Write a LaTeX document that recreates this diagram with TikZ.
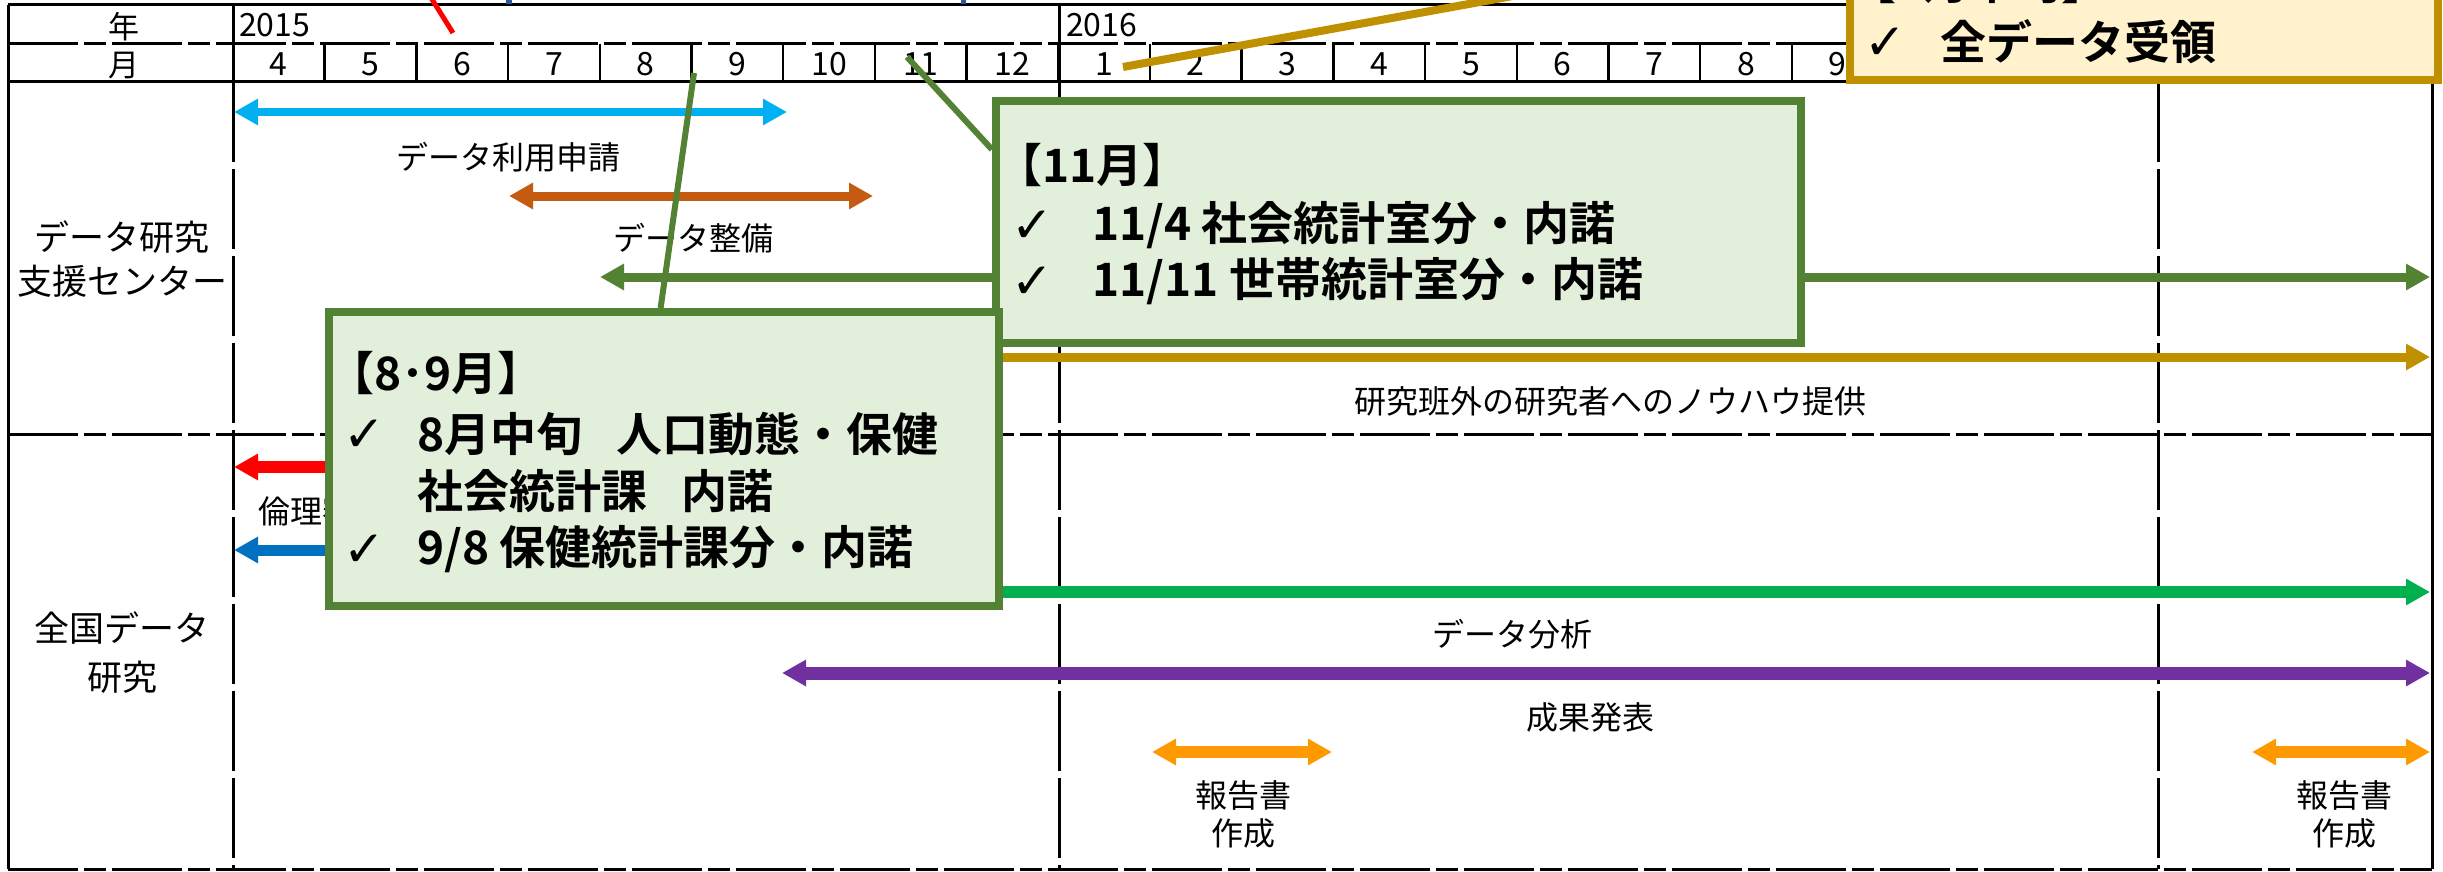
\documentclass[tikz,border=0pt]{standalone}
\usepackage{fontspec}
\usetikzlibrary{arrows.meta,calc}
\newfontfamily\jpfont{Noto Sans CJK JP}
\newfontfamily\jpbold{Noto Sans CJK JP Bold}
\newfontfamily\chkfont{DejaVu Sans}
\definecolor{cCyan}{HTML}{00B0F0}
\definecolor{cBrown}{HTML}{C55A11}
\definecolor{cDkGreen}{HTML}{548235}
\definecolor{cGold}{HTML}{BF9000}
\definecolor{cRed}{HTML}{FF0000}
\definecolor{cBlue}{HTML}{0070C0}
\definecolor{cGreen}{HTML}{00B050}
\definecolor{cPurple}{HTML}{7030A0}
\definecolor{cOrange}{HTML}{FF9900}
\definecolor{cBoxGreen}{HTML}{E2EFDA}
\definecolor{cBoxYellow}{HTML}{FFF2CC}
\definecolor{cNavy}{HTML}{2F5597}
\pgfdeclarelayer{bg}
\pgfdeclarelayer{conn}
\pgfsetlayers{bg,conn,main}
\begin{document}
\begin{tikzpicture}[x=1pt,y=-1pt,
  gridline/.style={line width=3pt,black},
  hdash/.style={dash pattern=on 70pt off 6pt on 22pt off 6pt},
  vdash/.style={dash pattern=on 80pt off 7pt},
  sepline/.style={line width=2.5pt,black},
  tbar/.style={line width=#1, line cap=butt},
  dbl/.style={{Triangle[length=24pt,width=25pt]}-{Triangle[length=24pt,width=25pt]}},
  rgt/.style={-{Triangle[length=24pt,width=25pt]}},
  lft/.style={{Triangle[length=24pt,width=25pt]}-},
  digit/.style={inner sep=0pt, font=\jpfont\fontsize{32}{38}\selectfont},
  hdr/.style={inner sep=0pt, font=\jpfont\fontsize{31}{37}\selectfont},
  side/.style={inner sep=0pt, font=\jpfont\fontsize{35}{42}\selectfont},
  lbl/.style={inner sep=0pt, font=\jpfont\fontsize{32}{38}\selectfont},
  note/.style={inner sep=0pt, anchor=west, font=\jpbold\fontsize{46}{55}\selectfont},
  chk/.style={inner sep=0pt, font=\chkfont\fontsize{50}{60}\selectfont},
  greenbox/.style={draw=cDkGreen, fill=cBoxGreen, line width=8pt, inner sep=0pt},
  yellowbox/.style={draw=cGold, fill=cBoxYellow, line width=8pt, inner sep=0pt},
  callG/.style={cDkGreen, line width=6pt},
]
\useasboundingbox (0,0) rectangle (2443,872);
\clip (0,0) rectangle (2443,872);

\begin{pgfonlayer}{bg}
\clip (0,0) rectangle (2443,872);
\fill[white] (0,0) rectangle (2443,872);
% grid
\draw[gridline] (8,5) -- (2432,5);
\draw[gridline] (8,5) -- (8,869);
\draw[gridline] (2432,5) -- (2432,869);
\draw[gridline,hdash] (8,869) -- (2432,869);
\draw[gridline,hdash] (8,44) -- (2432,44);
\draw[gridline] (8,82) -- (2432,82);
\draw[gridline,hdash] (8,434) -- (2432,434);
\draw[gridline] (233,5) -- (233,82);
\draw[gridline,vdash] (233,82) -- (233,869);
\draw[gridline] (1059,5) -- (1059,82);
\draw[gridline,vdash] (1059,82) -- (1059,869);
\draw[gridline,vdash] (2158,82) -- (2158,869);
\foreach \k in {1,...,23} \draw[sepline] ({233+\k*91.7},44) -- ({233+\k*91.7},82);
% header texts
\node[hdr] (nen) at (124,27) {年};
\node[hdr] (tsuki) at (124,66) {月};
\node[digit, anchor=west] (y2015) at (239,25) {2015};
\node[digit, anchor=west] (y2016) at (1066,25) {2016};
\foreach \m [count=\i from 0] in {4,5,6,7,8,9,10,11,12,1,2,3,4,5,6,7,8,9}
  \node[digit] (m\i) at ({233+(\i+0.5)*91.7},64) {\m};
% side labels
\node[side] (s1) at (122,237) {データ研究};
\node[side] (s2) at (122,281) {支援センター};
\node[side] (s3) at (122,628) {全国データ};
\node[side] (s4) at (122,677) {研究};
% bars
\draw[cCyan, tbar=8pt, dbl] (234,112) -- (787,112);
\draw[cBrown, tbar=9pt, dbl] (509,196) -- (873,196);
\draw[cDkGreen, tbar=9pt, dbl] (600,277) -- (2430,277);
\draw[cGold, tbar=9pt, rgt] (500,357) -- (2430,357);
\draw[cRed, tbar=12pt, lft] (234,467) -- (700,467);
\draw[cBlue, tbar=11pt, lft] (234,550) -- (700,550);
\draw[cGreen, tbar=12pt, rgt] (500,592) -- (2430,592);
\draw[cPurple, tbar=13pt, dbl] (782,673) -- (2430,673);
\draw[cOrange, tbar=12pt, dbl] (1152,752) -- (1332,752);
\draw[cOrange, tbar=12pt, dbl] (2252,752) -- (2430,752);
% bar labels
\node[lbl] (l1) at (508,157) {データ利用申請};
\node[lbl] (l2) at (693,238) {データ整備};
\node[lbl] (l3) at (1610,401) {研究班外の研究者へのノウハウ提供};
\node[lbl, anchor=west] (l4) at (258,511) {倫理審査};
\node[lbl] (l5) at (1512,634) {データ分析};
\node[lbl] (l6) at (1590,717) {成果発表};
\node[lbl] (l7) at (1243,795) {報告書};
\node[lbl] (l8) at (1243,833) {作成};
\node[lbl] (l9) at (2344,795) {報告書};
\node[lbl] (l10) at (2344,833) {作成};
% marks at top edge
\fill[cNavy] (506,0) rectangle (512,4);
\fill[cNavy] (961,0) rectangle (966,4);
\end{pgfonlayer}

% callout boxes
\node[greenbox, anchor=north west, minimum width=805pt, minimum height=242pt] (boxA) at (992,97) {};
\node[note] (aT) at (996,165) {【11月】};
\node[chk] (aC1) at (1032,227) {✓};
\node[note] (aL1) at (1092,225) {11/4 社会統計室分・内諾};
\node[chk] (aC2) at (1032,283) {✓};
\node[note] (aL2) at (1092,281) {11/11 世帯統計室分・内諾};

\node[greenbox, anchor=north west, minimum width=670pt, minimum height=294pt] (boxB) at (325,308) {};
\node[note] (bT) at (328,373) {【8･9月】};
\node[chk] (bC1) at (364,436) {✓};
\node[note] (bL1) at (417,434) {8月中旬\hspace{34pt}人口動態・保健};
\node[note] (bL2) at (417,491) {社会統計課\hspace{34pt}内諾};
\node[chk] (bC2) at (364,551) {✓};
\node[note] (bL3) at (417,549) {9/8 保健統計課分・内諾};

\node[yellowbox, anchor=south west, minimum width=588pt, minimum height=200pt] (boxC) at (1846,84) {};
\node[note] (cT) at (1850,-18) {【1月中旬】};
\node[chk] (cC1) at (1885,44) {✓};
\node[note] (cL1) at (1940,42) {全データ受領};

% callout connectors
\begin{pgfonlayer}{conn}
\clip (0,0) rectangle (2443,872);
\coordinate (tA) at (907,57);
\draw[callG] (tA) -- ($(boxA.north west)!0.21!(boxA.south west)$);
\coordinate (tB) at (694,73);
\draw[callG] (tB) -- ($(boxB.north west)!0.495!(boxB.north east)$);
\coordinate (tC) at (1123,67);
\draw[cGold, line width=8pt] (tC) -- ($(boxC.north west)!0.285!(boxC.south west)$);
\coordinate (tR1) at (420,-20);
\coordinate (tR2) at (453,33);
\draw[cRed, line width=5pt] (tR1) -- (tR2);
\end{pgfonlayer}
\end{tikzpicture}
\end{document}
